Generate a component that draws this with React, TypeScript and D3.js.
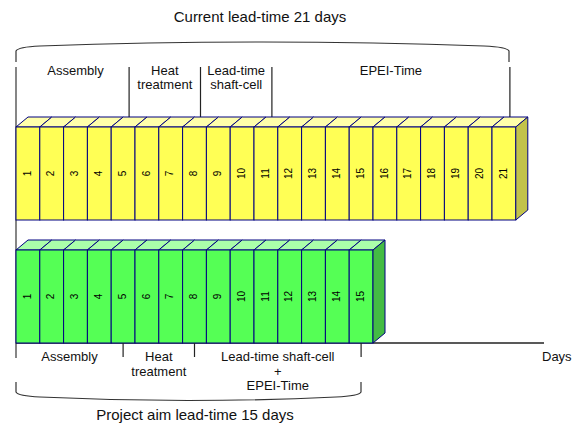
import * as d3 from "d3";

// days shown in each row
const currentDays = [1, 2, 3, 4, 5, 6, 7, 8, 9, 10, 11, 12, 13, 14, 15, 16, 17, 18, 19, 20, 21];
const aimDays = [1, 2, 3, 4, 5, 6, 7, 8, 9, 10, 11, 12, 13, 14, 15];

// phase borders, in days from the start (drawn at the middle of a day)
const currentBounds = [0, 4.5, 7.5, 10.5, 20.5];
const currentLabels = [["Assembly"], ["Heat", "treatment"], ["Lead-time", "shaft-cell"], ["EPEI-Time"]];
const aimBounds = [0, 4.5, 7.5, 14.5];
const aimLabels = [["Assembly"], ["Heat", "treatment"], ["Lead-time shaft-cell", "+", "EPEI-Time"]];

const currentTitle = "Current lead-time 21 days";
const aimTitle = "Project aim lead-time 15 days";
const axisLabel = "Days";

const W = 577;
const H = 424;
const font = "Liberation Sans, Arial, sans-serif";
const stroke = "#000080";
const dx = 12;
const dy = 10;

// one row of 3D day blocks
const Blocks = ({ days, x, top, bottom, front, topFill, side }) => {
  const last = days[days.length - 1];
  const xe = x(last);
  return (
    <g>
      {days.map((d) => {
        const x0 = x(d - 1);
        const x1 = x(d);
        return (
          <g key={d}>
            <path
              d={`M${x0},${top}L${x1},${top}L${x1 + dx},${top - dy}L${x0 + dx},${top - dy}Z`}
              fill={topFill}
              stroke={stroke}
              strokeWidth={1}
            />
            <rect x={x0} y={top} width={x1 - x0} height={bottom - top} fill={front} stroke={stroke} strokeWidth={1} />
            <text
              transform={`translate(${(x0 + x1) / 2},${(top + bottom) / 2}) rotate(-90)`}
              textAnchor="middle"
              dominantBaseline="middle"
              fontSize={10}
              fontFamily={font}
              fill="#000"
            >
              {d}
            </text>
          </g>
        );
      })}
      <path
        d={`M${xe},${top}L${xe + dx},${top - dy}L${xe + dx},${bottom - dy}L${xe},${bottom}Z`}
        fill={side}
        stroke={stroke}
        strokeWidth={1}
      />
    </g>
  );
};

const App = () => {
  const x = d3.scaleLinear().domain([0, 21]).range([16, 16 + 21 * 23.8]);

  const yTop = { top: 127, bottom: 220 };
  const yAim = { top: 250, bottom: 343 };

  return (
    <svg width={W} height={H} style={{ position: "absolute", left: 0, top: 0 }}>
      <rect width={W} height={H} fill="#fff" />

      {/* title + bracket for the current lead-time */}
      <text x={260} y={18} textAnchor="middle" dominantBaseline="middle" fontSize={15} fontFamily={font} fill="#111">
        {currentTitle}
      </text>
      <path
        d={`M16,62L16,51Q18,47 40,46Q262,38 484,46Q507,47 509,51L509,62`}
        fill="none"
        stroke="#333"
        strokeWidth={1.2}
      />

      {/* left axis and time axis */}
      <line x1={16} x2={16} y1={67} y2={358} stroke="#444" strokeWidth={1.3} />
      <line x1={16} x2={544} y1={yAim.bottom} y2={yAim.bottom} stroke="#222" strokeWidth={1.3} />
      <text x={542} y={358} dominantBaseline="middle" fontSize={13} fontFamily={font} fill="#111">
        {axisLabel}
      </text>

      {/* phase separators above the current row */}
      {currentBounds.slice(1).map((b) => (
        <line key={b} x1={x(b) + 6} x2={x(b) + 6} y1={67} y2={122} stroke="#222" strokeWidth={1.2} />
      ))}
      {currentLabels.map((lines, i) => {
        const cx = (x(currentBounds[i]) + x(currentBounds[i + 1])) / 2 + 6;
        return (
          <text key={i} textAnchor="middle" fontSize={13} fontFamily={font} fill="#111">
            {lines.map((l, j) => (
              <tspan key={j} x={cx} y={72 + j * 14} dominantBaseline="middle">
                {l}
              </tspan>
            ))}
          </text>
        );
      })}

      <Blocks days={currentDays} x={x} {...yTop} front="#ffff55" topFill="#ffffaa" side="#c2c24a" />
      <Blocks days={aimDays} x={x} {...yAim} front="#55ff55" topFill="#aaffaa" side="#44bb44" />

      {/* phase ticks below the aim row */}
      {aimBounds.slice(1).map((b) => (
        <line key={b} x1={x(b)} x2={x(b)} y1={yAim.bottom} y2={357} stroke="#222" strokeWidth={1.2} />
      ))}
      {aimLabels.map((lines, i) => {
        const cx = (x(aimBounds[i]) + x(aimBounds[i + 1])) / 2;
        return (
          <text key={i} textAnchor="middle" fontSize={13} fontFamily={font} fill="#111">
            {lines.map((l, j) => (
              <tspan key={j} x={cx} y={358 + j * 14.5} dominantBaseline="middle">
                {l}
              </tspan>
            ))}
          </text>
        );
      })}

      {/* bracket + title for the project aim */}
      <path
        d={`M16,382L16,392Q18,396 40,397Q188,404 336,397Q359,396 361,392L361,382`}
        fill="none"
        stroke="#333"
        strokeWidth={1.2}
      />
      <text x={195} y={416} textAnchor="middle" dominantBaseline="middle" fontSize={15} fontFamily={font} fill="#111">
        {aimTitle}
      </text>
    </svg>
  );
};

export default App;
